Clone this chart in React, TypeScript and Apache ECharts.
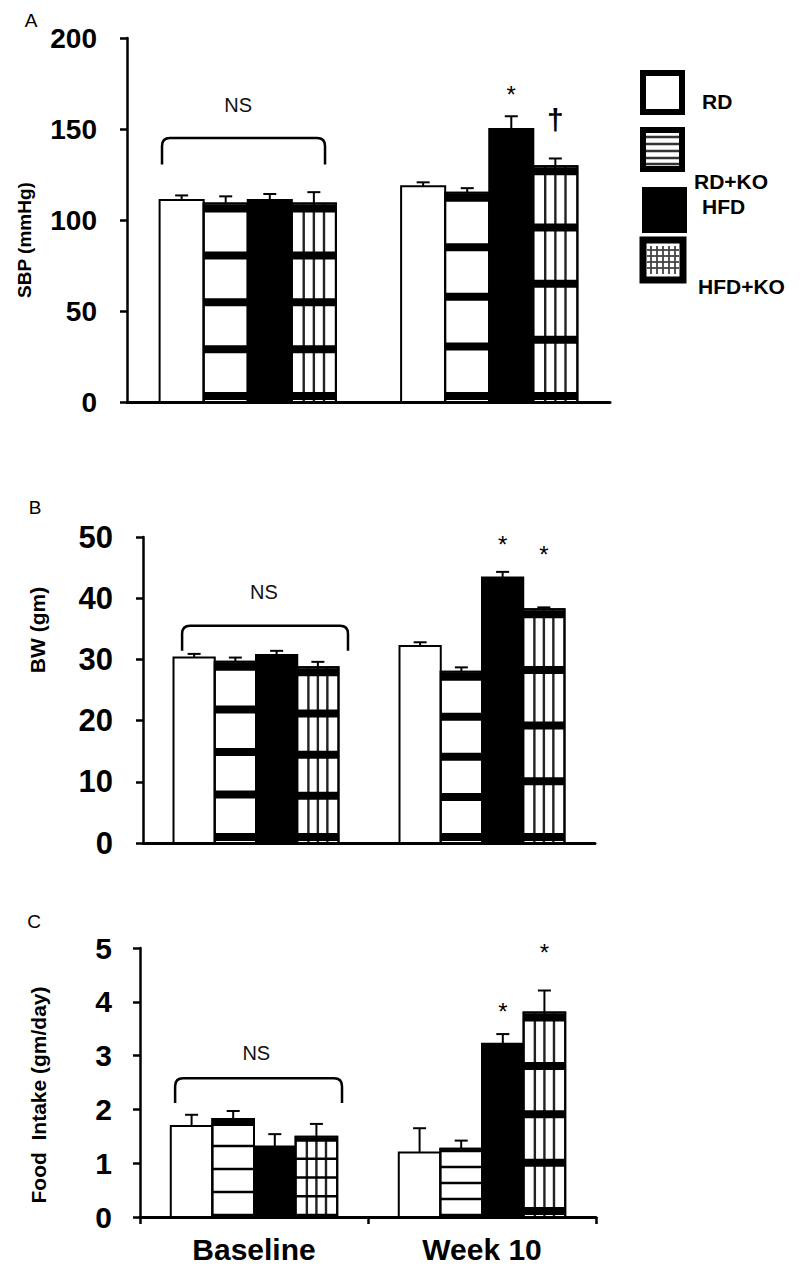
import React, { useEffect, useRef } from "react";
import * as echarts from "echarts";

const CATEGORIES = ["Baseline", "Week 10"];
const GROUPS = ["RD", "RD+KO", "HFD", "HFD+KO"];

// Panel A – SBP (mmHg)
const SBP_TICKS = [0, 50, 100, 150, 200];
const SBP_RD = [111, 118.5];
const SBP_RDKO = [109, 115];
const SBP_HFD = [111, 150];
const SBP_HFDKO = [109, 129.5];
const SBP_RD_ERR = [2.5, 2.2];
const SBP_RDKO_ERR = [4, 2.5];
const SBP_HFD_ERR = [3.3, 7];
const SBP_HFDKO_ERR = [6.3, 4.3];
const SBP_MARK_TEXT = ["*", "†"];
const SBP_MARK_CAT = [1, 1];
const SBP_MARK_GROUP = [2, 3];
const SBP_MARK_VALUE = [172, 155];
const SBP_NS = [145, 130.5, 163]; // bracket top, bracket ends, label

// Panel B – BW (gm)
const BW_TICKS = [0, 10, 20, 30, 40, 50];
const BW_RD = [30.3, 32.2];
const BW_RDKO = [29.6, 28.0];
const BW_HFD = [30.7, 43.4];
const BW_HFDKO = [28.7, 38.2];
const BW_RD_ERR = [0.6, 0.6];
const BW_RDKO_ERR = [0.7, 0.7];
const BW_HFD_ERR = [0.7, 0.9];
const BW_HFDKO_ERR = [0.9, 0.3];
const BW_MARK_TEXT = ["*", "*"];
const BW_MARK_CAT = [1, 1];
const BW_MARK_GROUP = [2, 3];
const BW_MARK_VALUE = [49.8, 48.2];
const BW_NS = [35.5, 31.4, 41];

// Panel C – Food Intake (gm/day)
const FI_TICKS = [0, 1, 2, 3, 4, 5];
const FI_RD = [1.69, 1.2];
const FI_RDKO = [1.82, 1.27];
const FI_HFD = [1.31, 3.22];
const FI_HFDKO = [1.49, 3.8];
const FI_RD_ERR = [0.21, 0.45];
const FI_RDKO_ERR = [0.15, 0.15];
const FI_HFD_ERR = [0.23, 0.18];
const FI_HFDKO_ERR = [0.24, 0.41];
const FI_MARK_TEXT = ["*", "*"];
const FI_MARK_CAT = [1, 1];
const FI_MARK_GROUP = [2, 3];
const FI_MARK_VALUE = [3.94, 5.02];
const FI_NS = [2.58, 2.12, 3.05];

const FONT = '"Liberation Sans", Arial, Helvetica, sans-serif';
const GROUP_RATIO = 0.73;

type Pat = { top: number; band: number; bottom: number; v: boolean } | null;
const THICK: Pat = { top: 8, band: 8, bottom: 6, v: false };
const THICK_V: Pat = { top: 8, band: 8, bottom: 6, v: true };
const THIN_TOPBAND: Pat = { top: 6, band: 2.5, bottom: 2, v: false };
const THIN_V: Pat = { top: 4, band: 2.5, bottom: 2, v: true };
const THIN: Pat = { top: 2.5, band: 2.5, bottom: 2, v: false };

const PANELS = [
  {
    grid: { left: 127, top: 38, width: 483, height: 364 },
    ticks: SBP_TICKS,
    values: [SBP_RD, SBP_RDKO, SBP_HFD, SBP_HFDKO],
    errs: [SBP_RD_ERR, SBP_RDKO_ERR, SBP_HFD_ERR, SBP_HFDKO_ERR],
    patterns: [null, [THICK, THICK], null, [THICK_V, THICK_V]],
    marks: { text: SBP_MARK_TEXT, cat: SBP_MARK_CAT, group: SBP_MARK_GROUP, value: SBP_MARK_VALUE },
    ns: SBP_NS,
    bracketX: [-0.355, 0.32],
    nsX: -0.04,
    labelSize: 28,
    labelMargin: 30,
  },
  {
    grid: { left: 143, top: 537, width: 452, height: 306 },
    ticks: BW_TICKS,
    values: [BW_RD, BW_RDKO, BW_HFD, BW_HFDKO],
    errs: [BW_RD_ERR, BW_RDKO_ERR, BW_HFD_ERR, BW_HFDKO_ERR],
    patterns: [null, [THICK, THICK], null, [THICK_V, THICK_V]],
    marks: { text: BW_MARK_TEXT, cat: BW_MARK_CAT, group: BW_MARK_GROUP, value: BW_MARK_VALUE },
    ns: BW_NS,
    bracketX: [-0.327, 0.407],
    nsX: 0.035,
    labelSize: 31,
    labelMargin: 30,
  },
  {
    grid: { left: 140, top: 948, width: 456, height: 269 },
    ticks: FI_TICKS,
    values: [FI_RD, FI_RDKO, FI_HFD, FI_HFDKO],
    errs: [FI_RD_ERR, FI_RDKO_ERR, FI_HFD_ERR, FI_HFDKO_ERR],
    patterns: [null, [THIN_TOPBAND, THIN], null, [THIN_V, THICK_V]],
    marks: { text: FI_MARK_TEXT, cat: FI_MARK_CAT, group: FI_MARK_GROUP, value: FI_MARK_VALUE },
    ns: FI_NS,
    bracketX: [-0.346, 0.386],
    nsX: 0.01,
    labelSize: 30,
    labelMargin: 28,
  },
];

function barGeom(api: any, cat: number, gi: number) {
  const base = api.coord([cat, 0]);
  const bandW = api.size([1, 0])[0];
  const groupW = bandW * GROUP_RATIO;
  const bw = groupW / 4;
  const x = base[0] - groupW / 2 + gi * bw;
  return { x, bw, y0: base[1], bandW, cx: base[0] };
}

function barSeries(pi: number, gi: number) {
  const P = PANELS[pi];
  const vals = P.values[gi];
  const errs = P.errs[gi];
  const pats = P.patterns[gi] as Pat[] | null;
  return {
    type: "custom",
    name: GROUPS[gi],
    xAxisIndex: pi,
    yAxisIndex: pi,
    data: vals.map((v, i) => [i, v, errs[i]]),
    encode: { x: 0, y: 1 },
    renderItem: (params: any, api: any) => {
      const cat = api.value(0);
      const v = api.value(1);
      const e = api.value(2);
      const g = barGeom(api, cat, gi);
      const yt = api.coord([cat, v])[1];
      const ye = api.coord([cat, v + e])[1];
      const h = g.y0 - yt;
      const cx = g.x + g.bw / 2;
      const children: any[] = [];
      children.push({ type: "line", shape: { x1: cx, y1: yt, x2: cx, y2: ye }, style: { stroke: "#000", lineWidth: 2 } });
      children.push({ type: "line", shape: { x1: cx - 6.5, y1: ye, x2: cx + 6.5, y2: ye }, style: { stroke: "#000", lineWidth: 2 } });
      const fill = gi === 2 ? "#000" : "#fff";
      children.push({ type: "rect", shape: { x: g.x, y: yt, width: g.bw, height: h }, style: { fill, stroke: "#000", lineWidth: 2 } });
      const pat = pats ? pats[params.dataIndex] : null;
      if (pat) {
        if (pat.v) {
          [0.27, 0.5, 0.73].forEach((f) => {
            children.push({ type: "rect", shape: { x: g.x + f * g.bw - 1.2, y: yt, width: 2.4, height: h }, style: { fill: "#222" } });
          });
        }
        const ys = yt + 1 + pat.top / 2;
        const yb = g.y0 - pat.bottom;
        for (let i = 0; i <= 4; i++) {
          const t = i === 0 ? pat.top : pat.band;
          const cy = ys + (i * (yb - ys)) / 4;
          children.push({ type: "rect", shape: { x: g.x, y: cy - t / 2, width: g.bw, height: t }, style: { fill: "#000" } });
        }
        children.push({ type: "rect", shape: { x: g.x, y: yt, width: g.bw, height: h }, style: { fill: "none", stroke: "#000", lineWidth: 2 } });
      }
      return { type: "group", children };
    },
  };
}

function markSeries(pi: number) {
  const P = PANELS[pi];
  const M = P.marks;
  return {
    type: "custom",
    name: "marks" + pi,
    xAxisIndex: pi,
    yAxisIndex: pi,
    data: M.value.map((v, i) => [M.cat[i], v, M.group[i], i]),
    encode: { x: 0, y: 1 },
    renderItem: (params: any, api: any) => {
      const cat = api.value(0);
      const v = api.value(1);
      const gi = api.value(2);
      const idx = api.value(3);
      const g = barGeom(api, cat, gi);
      const y = api.coord([cat, v])[1];
      const txt = M.text[idx];
      const isStar = txt === "*";
      const fs = isStar ? 24 : 30;
      return {
        type: "text",
        x: g.x + g.bw / 2,
        y: y + (isStar ? 6 : 0),
        style: {
          text: txt,
          fontSize: fs,
          fontWeight: isStar ? "normal" : "bold",
          fontFamily: FONT,
          fill: "#000",
          textAlign: "center",
          textVerticalAlign: "middle",
          align: "center",
          verticalAlign: "middle",
        },
      };
    },
  };
}

function bracketSeries(pi: number) {
  const P = PANELS[pi];
  return {
    type: "custom",
    name: "ns" + pi,
    xAxisIndex: pi,
    yAxisIndex: pi,
    data: [[0, P.ns[0], P.ns[1], P.ns[2]]],
    encode: { x: 0, y: 1 },
    renderItem: (params: any, api: any) => {
      const topY = api.coord([0, api.value(1)])[1];
      const endY = api.coord([0, api.value(2)])[1];
      const labY = api.coord([0, api.value(3)])[1];
      const base = api.coord([0, 0]);
      const bandW = api.size([1, 0])[0];
      const l = base[0] + P.bracketX[0] * bandW;
      const r = base[0] + P.bracketX[1] * bandW;
      const rr = 8;
      const d = `M${l} ${endY} L${l} ${topY + rr} Q${l} ${topY} ${l + rr} ${topY} L${r - rr} ${topY} Q${r} ${topY} ${r} ${topY + rr} L${r} ${endY}`;
      return {
        type: "group",
        children: [
          { type: "path", shape: { pathData: d }, style: { fill: "none", stroke: "#000", lineWidth: 2.5 } },
          {
            type: "text",
            x: base[0] + P.nsX * bandW,
            y: labY,
            style: {
              text: "NS",
              fontSize: 20,
              fontFamily: FONT,
              fill: "#111",
              textAlign: "center",
              textVerticalAlign: "middle",
              align: "center",
              verticalAlign: "middle",
            },
          },
        ],
      };
    },
  };
}

function txt(text: string, x: number, y: number, fontSize: number, bold: boolean, rotation = 0) {
  return {
    type: "text",
    x,
    y,
    rotation,
    style: {
      text,
      fontSize,
      fontWeight: bold ? "bold" : "normal",
      fontFamily: FONT,
      fill: "#000",
      textAlign: "center",
      textVerticalAlign: "middle",
      align: "center",
      verticalAlign: "middle",
    },
  };
}

function legendText(text: string, x: number, y: number) {
  return {
    type: "text",
    x,
    y,
    style: { text, fontSize: 21, fontWeight: "bold", fontFamily: FONT, fill: "#000", textVerticalAlign: "middle", verticalAlign: "middle", lineHeight: 21 },
  };
}

function legendGraphics() {
  const els: any[] = [];
  // RD
  els.push({ type: "rect", shape: { x: 643, y: 73, width: 39, height: 39 }, style: { fill: "#fff", stroke: "#000", lineWidth: 6 } });
  // RD+KO
  els.push({ type: "rect", shape: { x: 643, y: 130, width: 39, height: 39 }, style: { fill: "#fff", stroke: "#000", lineWidth: 6 } });
  [137, 144, 151, 158, 164].forEach((y) => {
    els.push({ type: "rect", shape: { x: 646, y: y - 1.2, width: 33, height: 2.4 }, style: { fill: "#333" } });
  });
  // HFD
  els.push({ type: "rect", shape: { x: 642, y: 187, width: 45, height: 46 }, style: { fill: "#000" } });
  // HFD+KO
  els.push({ type: "rect", shape: { x: 643, y: 240, width: 40, height: 40 }, style: { fill: "#fff", stroke: "#000", lineWidth: 7 } });
  [651, 657, 663, 669, 675].forEach((x) => {
    els.push({ type: "rect", shape: { x: x - 0.9, y: 246, width: 1.8, height: 28 }, style: { fill: "#444" } });
  });
  [250, 256, 262, 268].forEach((y) => {
    els.push({ type: "rect", shape: { x: 647, y: y - 0.9, width: 32, height: 1.8 }, style: { fill: "#444" } });
  });
  els.push(legendText("RD", 702, 101));
  els.push(legendText("RD+KO", 694, 181));
  els.push(legendText("HFD", 702, 206));
  els.push(legendText("HFD+KO", 698, 286));
  return els;
}

export default function App() {
  const ref = useRef<HTMLDivElement>(null);
  useEffect(() => {
    document.body.style.margin = "0";
    const chart = echarts.init(ref.current!, undefined, { renderer: "svg" });
    const series: any[] = [];
    PANELS.forEach((_, pi) => {
      series.push(bracketSeries(pi));
      for (let gi = 0; gi < 4; gi++) series.push(barSeries(pi, gi));
      series.push(markSeries(pi));
    });
    const option: any = {
      animation: false,
      backgroundColor: "#fff",
      grid: PANELS.map((p) => ({ ...p.grid, containLabel: false })),
      xAxis: PANELS.map((p, i) => ({
        type: "category",
        gridIndex: i,
        data: CATEGORIES,
        axisLine: { show: true, lineStyle: { color: "#000", width: 3 } },
        axisTick: { show: i === 2, length: 7, alignWithLabel: false, lineStyle: { color: "#000", width: 2.5 } },
        axisLabel: { show: i === 2, fontSize: 30, lineHeight: 30, fontWeight: "bold", color: "#000", fontFamily: FONT, margin: 17 },
        splitLine: { show: false },
      })),
      yAxis: PANELS.map((p, i) => ({
        type: "value",
        gridIndex: i,
        min: p.ticks[0],
        max: p.ticks[p.ticks.length - 1],
        interval: p.ticks[1] - p.ticks[0],
        axisLine: { show: true, lineStyle: { color: "#000", width: 2.5 } },
        axisTick: { show: true, length: 7, inside: false, lineStyle: { color: "#000", width: 2.5 } },
        axisLabel: { fontSize: p.labelSize, fontWeight: "bold", color: "#000", fontFamily: FONT, margin: p.labelMargin },
        splitLine: { show: false },
      })),
      graphic: [
        txt("A", 31, 20, 19, false),
        txt("B", 35, 507, 19, false),
        txt("C", 34, 921, 19, false),
        txt("SBP (mmHg)", 24, 240, 19, true, Math.PI / 2),
        txt("BW (gm)", 37, 630, 21, true, Math.PI / 2),
        txt("Food  Intake (gm/day)", 38, 1095, 21, true, Math.PI / 2),
        ...legendGraphics(),
      ],
      series,
    };
    chart.setOption(option);
    return () => chart.dispose();
  }, []);
  return <div ref={ref} style={{ width: 800, height: 1267, position: "absolute", left: 0, top: 0 }} />;
}
